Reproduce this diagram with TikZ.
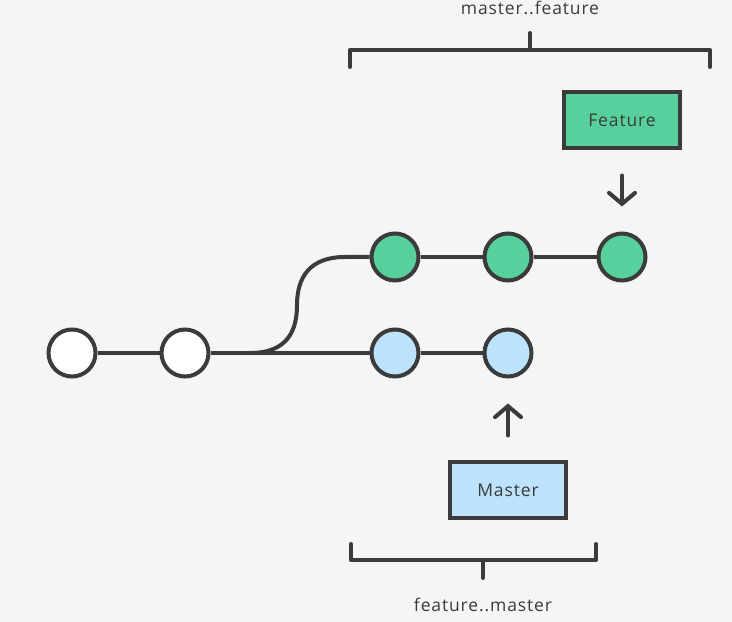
\documentclass[tikz,border=0pt]{standalone}
\usepackage{fontspec}
\setmainfont{Open Sans}
\newfontfamily\gitfont[LetterSpace=5]{Open Sans}
\usetikzlibrary{positioning, arrows.meta}

\definecolor{ink}{HTML}{3B3B3B}
\definecolor{paper}{HTML}{F5F5F5}
\definecolor{featgreen}{HTML}{57D09E}
\definecolor{mastblue}{HTML}{BCE2FC}

\tikzset{
  commit/.style = {circle, draw = ink, line width = 4pt, minimum size = 47pt, inner sep = 0pt},
  featc/.style = {commit, fill = featgreen},
  basec/.style = {commit, fill = white},
  mastc/.style = {commit, fill = mastblue},
  branchbox/.style = {draw = ink, line width = 4pt, minimum width = 116pt, minimum height = 56pt,
    font = \gitfont\fontsize{17.5}{20}\selectfont, text = ink},
  pointer/.style = {-{Straight Barb[length = 11pt, width = 26pt, line cap = round]}, line cap = round},
  rangelabel/.style = {font = \gitfont\fontsize{17.5}{20}\selectfont, text = ink}
}

\begin{document}
\begin{tikzpicture}[x = 1pt, y = 1pt, ink, line width = 4pt]
    \fill[paper] (0,0) rectangle (732,622);
    \useasboundingbox (0,0) rectangle (732,622);

    % commits
    \node[basec] (c1) at (72,269) {};
    \node[basec] (c2) [right=62pt of c1] {};
    \node[mastc] (m1) [right=159pt of c2] {};
    \node[mastc] (m2) [right=62pt of m1] {};
    \node[featc] (f1) [above=45pt of m1] {};
    \node[featc] (f2) [right=62pt of f1] {};
    \node[featc] (f3) [right=63pt of f2] {};

    % branch labels
    \node[branchbox, fill = featgreen] (feat) [above=81pt of f3] {Feature};
    \node[branchbox, fill = mastblue] (mast) [below=82pt of m2] {Master};

    \draw (c1) -- (c2) -- (m1) -- (m2);
    \draw (f1) -- (f2) -- (f3);
    \draw (250,269) .. controls (288,269) and (297,292) .. (297,317)
      .. controls (297,345) and (310,365) .. (345,365) -- (f1);

    \draw[pointer] ([yshift=-25pt]feat.south) -- ([yshift=25pt]f3.north);
    \draw[pointer] ([yshift=25pt]mast.north) -- ([yshift=-25pt]m2.south);

    % ranges
    \draw[line cap = round, line join = round] (350,555) -- (350,572) -- (710,572) -- (710,555);
    \draw[line cap = round] (530,572) -- (530,589);
    \node[rangelabel] (mf) at (530,614) {master..feature};

    \draw[line cap = round, line join = round] (351,78) -- (351,62) -- (596,62) -- (596,78);
    \draw[line cap = round] (483,62) -- (483,44);
    \node[rangelabel] (fm) at (483,17) {feature..master};
\end{tikzpicture}
\end{document}
